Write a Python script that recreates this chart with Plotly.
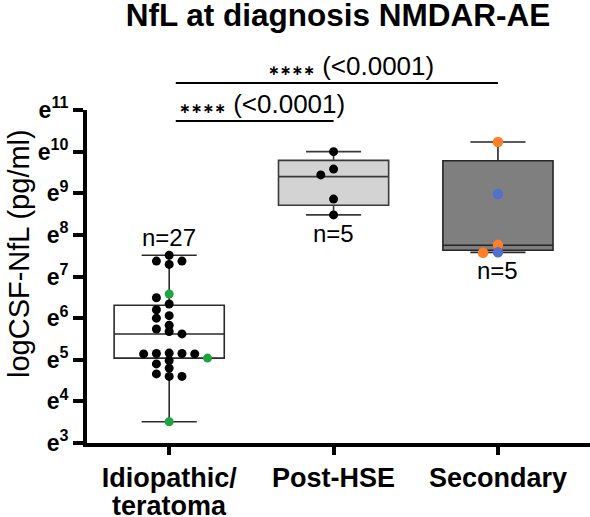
import plotly.graph_objects as go

# ---------------- data ----------------
title_text = "NfL at diagnosis NMDAR-AE"
y_title = "logCSF-NfL (pg/ml)"
categories = ["Idiopathic/", "Post-HSE", "Secondary"]
category_second_line = ["teratoma", "", ""]
y_tick_vals = [3, 4, 5, 6, 7, 8, 9, 10, 11]
y_tick_text = ["e<sup>%d</sup>" % v for v in y_tick_vals]

# natural-log values of CSF NfL
idio_black = [7.51, 7.37, 7.37, 7.29, 6.49, 6.34, 6.20, 6.06, 6.00, 5.83, 5.74,
              5.68, 5.62, 5.16, 5.15, 5.15, 5.14, 5.14, 4.98, 4.90, 4.80, 4.66,
              4.60, 4.60]
idio_green = [6.58, 5.04, 3.51]
hse_black = [10.00, 9.58, 9.44, 8.86, 8.48]
sec_orange = [10.23, 7.76, 7.57]
sec_blue = [8.98, 7.58]

box_lower = [3.51, 8.48, 7.58]
box_q1 = [5.04, 8.71, 7.63]
box_median = [5.62, 9.40, 7.75]
box_q3 = [6.31, 9.79, 9.78]
box_upper = [7.51, 10.00, 10.23]
group_n = [27, 5, 5]

comparisons = [(0, 2, "<0.0001"), (0, 1, "<0.0001")]

# ---------------- layout geometry ----------------
W, H = 590, 517
ML, MR, MT, MB = 87, 0, 110, 74
X_RANGE = [-0.5, 2.56]
Y_RANGE = [3, 11]
plot_w = W - ML - MR
plot_h = H - MT - MB
px_per_x = plot_w / (X_RANGE[1] - X_RANGE[0])
px_per_y = plot_h / (Y_RANGE[1] - Y_RANGE[0])


def swarm(values, thr_px):
    """Greedy beeswarm: returns integer column index for each value."""
    order = sorted(range(len(values)), key=lambda i: -values[i])
    seq = [0, -1, 1, -2, 2, 3, -3, 4, -4]
    placed = []
    cols = [0] * len(values)
    for i in order:
        y = values[i] * px_per_y
        for c in seq:
            if all(not (pc == c and abs(py - y) < thr_px) for py, pc in placed):
                break
        placed.append((y, c))
        cols[i] = c
    return cols


fill_colors = ["white", "#d3d3d3", "#7f7f7f"]
line_colors = ["#2b2b2b", "#3a3a3a", "#262626"]

fig = go.Figure()

for i in range(3):
    fig.add_trace(go.Box(
        x=[i], q1=[box_q1[i]], median=[box_median[i]], q3=[box_q3[i]],
        lowerfence=[box_lower[i]], upperfence=[box_upper[i]],
        width=0.67, whiskerwidth=0.5, boxpoints=False,
        fillcolor=fill_colors[i], line=dict(color=line_colors[i], width=1.6),
        hoverinfo="skip", showlegend=False))

groups = [
    (0, [(idio_black, "#000000"), (idio_green, "#1fa343")], 9),
    (1, [(hse_black, "#000000")], 9),
    (2, [(sec_orange, "#ff7f27"), (sec_blue, "#5470c8")], 10.5),
]
for gx, series, dot in groups:
    vals = []
    cols = []
    for s, c in series:
        vals += s
        cols += [c] * len(s)
    offs = swarm(vals, 6)
    step = dot * 1.42 / px_per_x
    for s, c in series:
        xs, ys = [], []
        for v, cc, o in zip(vals, cols, offs):
            if cc == c:
                xs.append(gx + o * step)
                ys.append(v)
        fig.add_trace(go.Scatter(
            x=xs, y=ys, mode="markers",
            marker=dict(color=c, size=dot, line=dict(width=0)),
            hoverinfo="skip", showlegend=False))

FONT = "Liberation Sans, Arial, sans-serif"


def xpaper(xd):
    return (xd - X_RANGE[0]) / (X_RANGE[1] - X_RANGE[0])


def ypaper(ypx):
    return (H - MB - ypx) / plot_h


# n labels
fig.add_annotation(x=0, y=box_upper[0], text="n=%d" % group_n[0], showarrow=False,
                   yanchor="bottom", yshift=2, font=dict(family=FONT, size=24, color="black"))
for i in (1, 2):
    fig.add_annotation(x=i, y=box_lower[i], text="n=%d" % group_n[i], showarrow=False,
                       yanchor="top", yshift=-3, font=dict(family=FONT, size=24, color="black"))

# second line of category labels
for i, t in enumerate(category_second_line):
    if t:
        fig.add_annotation(xref="paper", yref="paper", x=xpaper(i), y=ypaper(506),
                           text="<b>" + t + "</b>", showarrow=False,
                           xanchor="center", yanchor="middle",
                           font=dict(family=FONT, size=27, color="black"))

# significance brackets
bracket_y_px = [83, 121]
label_y_px = [66, 104]
label_x_px = [266, 177]
for (a, b, p), ly, ty, tx in zip(comparisons, bracket_y_px, label_y_px, label_x_px):
    fig.add_shape(type="line", xref="paper", yref="paper",
                  x0=xpaper(a + 0.04), x1=xpaper(b), y0=ypaper(ly), y1=ypaper(ly),
                  line=dict(color="black", width=2))
    fig.add_annotation(
        xref="paper", yref="paper", x=(tx - ML) / plot_w, y=ypaper(ty),
        xanchor="left", yanchor="middle", showarrow=False,
        text="<span style='font-family:DejaVu Sans;font-size:14px'><b>∗∗∗∗</b></span>"
             " (" + p.replace("<", "&lt;") + ")",
        font=dict(family=FONT, size=26, color="black"))

# y-axis title
fig.add_annotation(xref="paper", yref="paper", x=(19 - ML) / plot_w, y=ypaper(254),
                   text=y_title, textangle=-90, showarrow=False,
                   xanchor="center", yanchor="middle",
                   font=dict(family=FONT, size=29, color="black"))

fig.update_layout(
    width=W, height=H,
    margin=dict(l=ML, r=MR, t=MT, b=MB, pad=0, autoexpand=False),
    paper_bgcolor="white", plot_bgcolor="white",
    title=dict(text="<b>" + title_text + "</b>", x=338 / W, xanchor="center",
               y=1 - 15 / H, yanchor="middle",
               font=dict(family=FONT, size=31.5, color="black")),
    showlegend=False,
    boxmode="overlay",
    xaxis=dict(range=X_RANGE, tickvals=[0, 1, 2], ticktext=categories,
               automargin=False,
               showline=True, linecolor="black", linewidth=4,
               ticks="outside", ticklen=8, tickwidth=4, tickcolor="black",
               showgrid=False, zeroline=False,
               tickfont=dict(family=FONT, size=27, color="black", weight="bold")),
    yaxis=dict(range=Y_RANGE, tickvals=y_tick_vals, ticktext=y_tick_text,
               automargin=False,
               showline=True, linecolor="black", linewidth=4,
               ticks="outside", ticklen=10, tickwidth=4, tickcolor="black",
               showgrid=False, zeroline=False,
               tickfont=dict(family=FONT, size=23, color="black", weight="bold")),
)

fig.write_html("out.html",
               config={"displayModeBar": False, "staticPlot": True},
               post_script="document.body.style.margin='0';"
                           "document.body.style.overflow='hidden';")
